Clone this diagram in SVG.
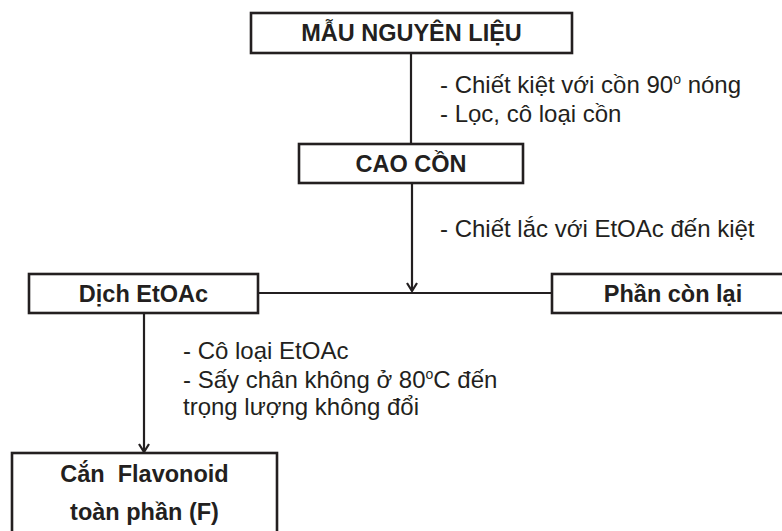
<svg xmlns="http://www.w3.org/2000/svg" width="782" height="531" viewBox="0 0 782 531">
  <style>
    .box { fill: #ffffff; stroke: #231f20; stroke-width: 2.6; }
    .conn { fill: none; stroke: #231f20; stroke-width: 2.2; }
    .title { font-family: "Liberation Sans", Arial, sans-serif; font-weight: bold; font-size: 23.5px; fill: #231f20; text-anchor: middle; }
    .note { font-family: "Liberation Sans", Arial, sans-serif; font-size: 24px; fill: #231f20; }
    .sup { font-size: 14px; }
  </style>
  <defs>
    <marker id="chevron" viewBox="0 0 12 12" refX="11" refY="6" markerWidth="12" markerHeight="12" markerUnits="userSpaceOnUse" orient="auto">
      <path d="M3,1 L11,6 L3,11" fill="none" stroke="#231f20" stroke-width="2.2"/>
    </marker>
  </defs>

  <!-- connectors -->
  <g id="connectors">
    <line class="conn" x1="411" y1="53" x2="411" y2="144"/>
    <line class="conn" x1="412" y1="183" x2="412" y2="291" marker-end="url(#chevron)"/>
    <line class="conn" x1="258" y1="293" x2="552" y2="293"/>
    <line class="conn" x1="144" y1="313" x2="144" y2="452" marker-end="url(#chevron)"/>
  </g>

  <!-- step notes -->
  <g id="notes">
    <text class="note" x="440" y="93">- Chiết kiệt với cồn 90<tspan class="sup" dy="-9">o</tspan><tspan dy="9"> nóng</tspan></text>
    <text class="note" x="440" y="122">- Lọc, cô loại cồn</text>
    <text class="note" x="440" y="237">- Chiết lắc với EtOAc đến kiệt</text>
    <text class="note" x="183" y="359">- Cô loại EtOAc</text>
    <text class="note" x="183" y="388">- Sấy chân không ở 80<tspan class="sup" dy="-9">o</tspan><tspan dy="9">C đến</tspan></text>
    <text class="note" x="183" y="415">trọng lượng không đổi</text>
  </g>

  <g id="mau-nguyen-lieu">
    <rect class="box" x="251" y="13" width="321" height="40"/>
    <text class="title" x="411.5" y="41">MẪU NGUYÊN LIỆU</text>
  </g>

  <g id="cao-con">
    <rect class="box" x="299" y="144" width="224" height="39"/>
    <text class="title" x="411" y="172">CAO CỒN</text>
  </g>

  <g id="dich-etoac">
    <rect class="box" x="29" y="274" width="229" height="39"/>
    <text class="title" x="143.5" y="302">Dịch EtOAc</text>
  </g>

  <g id="phan-con-lai">
    <rect class="box" x="552" y="274" width="242" height="39"/>
    <text class="title" x="673" y="302">Phần còn lại</text>
  </g>

  <g id="can-flavonoid">
    <rect class="box" x="12" y="453" width="265" height="90"/>
    <text class="title" x="144.5" y="482" xml:space="preserve">Cắn  Flavonoid</text>
    <text class="title" x="144.5" y="520">toàn phần (F)</text>
  </g>
</svg>
